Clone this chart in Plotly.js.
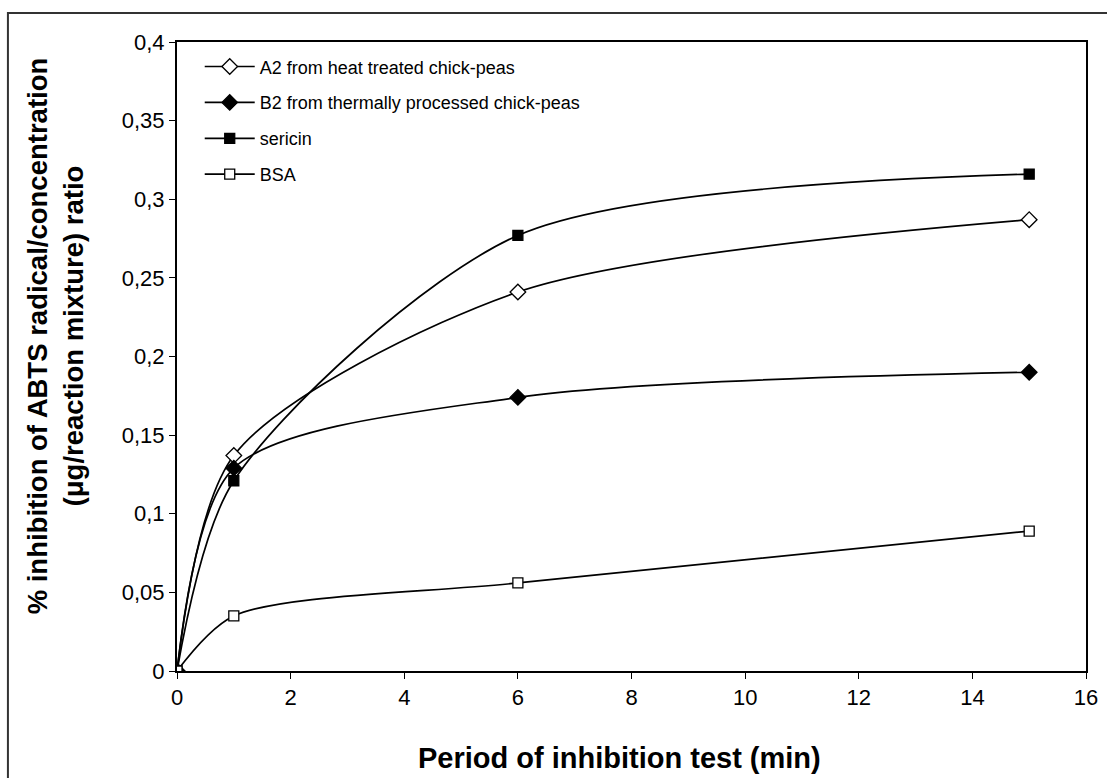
<!DOCTYPE html>
<html>
<head>
<meta charset="utf-8">
<script src="https://cdn.plot.ly/plotly-3.0.1.min.js"></script>
<style>
  html, body { margin: 0; padding: 0; background: #fff; }
  #chart { width: 1107px; height: 778px; }
</style>
</head>
<body>
<div id="chart"></div>
<script>
const timeMin = [0, 1, 6, 15];
const seriesNames = [
  "A2 from heat treated chick-peas",
  "B2 from thermally processed chick-peas",
  "sericin",
  "BSA"
];
const a2Values = [0, 0.137, 0.241, 0.287];
const b2Values = [0, 0.129, 0.174, 0.190];
const sericinValues = [0, 0.121, 0.277, 0.316];
const bsaValues = [0, 0.035, 0.056, 0.089];
const xTitle = "Period of inhibition test (min)";
const yTitleLines = ["% inhibition of ABTS radical/concentration", "(μg/reaction mixture) ratio"];

const FONT = "Arial, 'Liberation Sans', sans-serif";

function mk(name, y, symbol, size, group) {
  const open = symbol.indexOf("open") >= 0;
  return {
    x: timeMin, y: y, name: name, type: "scatter", mode: "lines+markers",
    legendgroup: group,
    line: { color: "#000", width: 1.7, shape: "spline", smoothing: 0.8 },
    marker: { symbol: open ? symbol.replace("-open", "") : symbol, size: size,
              color: open ? "#fff" : "#000",
              line: { color: "#000", width: 1.3 } }
  };
}

const data = [
  mk(seriesNames[0], a2Values, "diamond-open", 12, "g1"),
  mk(seriesNames[1], b2Values, "diamond", 12, "g2"),
  mk(seriesNames[2], sericinValues, "square", 10, "g3"),
  mk(seriesNames[3], bsaValues, "square-open", 10, "g4")
];

const layout = {
  width: 1107, height: 778,
  margin: { l: 177, r: 21, t: 42, b: 107 },
  paper_bgcolor: "#fff", plot_bgcolor: "#fff",
  separators: ", ",
  font: { family: FONT, size: 18, color: "#000" },
  showlegend: true,
  legend: {
    x: 0.025, y: 0.99, xanchor: "left", yanchor: "top",
    bgcolor: "rgba(0,0,0,0)", borderwidth: 0,
    font: { family: FONT, size: 18, color: "#000" },
    tracegroupgap: 9.5, traceorder: "grouped", itemwidth: 50
  },
  xaxis: {
    range: [0, 16], dtick: 2, tick0: 0,
    showgrid: false, zeroline: false,
    showline: true, linecolor: "#000", linewidth: 2, mirror: true,
    ticks: "outside", ticklen: 6, tickwidth: 1, tickcolor: "#000",
    tickfont: { family: FONT, size: 22, color: "#000" }
  },
  yaxis: {
    range: [0, 0.4], dtick: 0.05, tick0: 0,
    showgrid: false, zeroline: false,
    showline: true, linecolor: "#000", linewidth: 2, mirror: true,
    ticks: "outside", ticklen: 6, tickwidth: 1, tickcolor: "#000",
    tickfont: { family: FONT, size: 22, color: "#000" }
  },
  annotations: [
    { text: "<b>" + xTitle + "</b>", xref: "paper", yref: "paper",
      x: 0.487, y: -0.138, xanchor: "center", yanchor: "middle", showarrow: false,
      font: { family: FONT, size: 29, color: "#000" } },
    { text: "<b>" + yTitleLines[0] + "</b>", xref: "paper", yref: "paper",
      x: (37 - 177) / 909, y: 0.532, xanchor: "center", yanchor: "middle", showarrow: false,
      textangle: -90,
      font: { family: FONT, size: 27.5, color: "#000" } },
    { text: "<b>" + yTitleLines[1] + "</b>", xref: "paper", yref: "paper",
      x: (73 - 177) / 909, y: 0.532, xanchor: "center", yanchor: "middle", showarrow: false,
      textangle: -90,
      font: { family: FONT, size: 27.5, color: "#000" } }
  ],
  shapes: [
    { type: "rect", xref: "paper", yref: "paper",
      x0: -0.186, x1: 1.1, y0: -0.3, y1: 1.0462,
      line: { color: "#333", width: 2 }, fillcolor: "rgba(0,0,0,0)", layer: "below" }
  ]
};

Plotly.newPlot("chart", data, layout, { displayModeBar: false, staticPlot: true });
</script>
</body>
</html>
